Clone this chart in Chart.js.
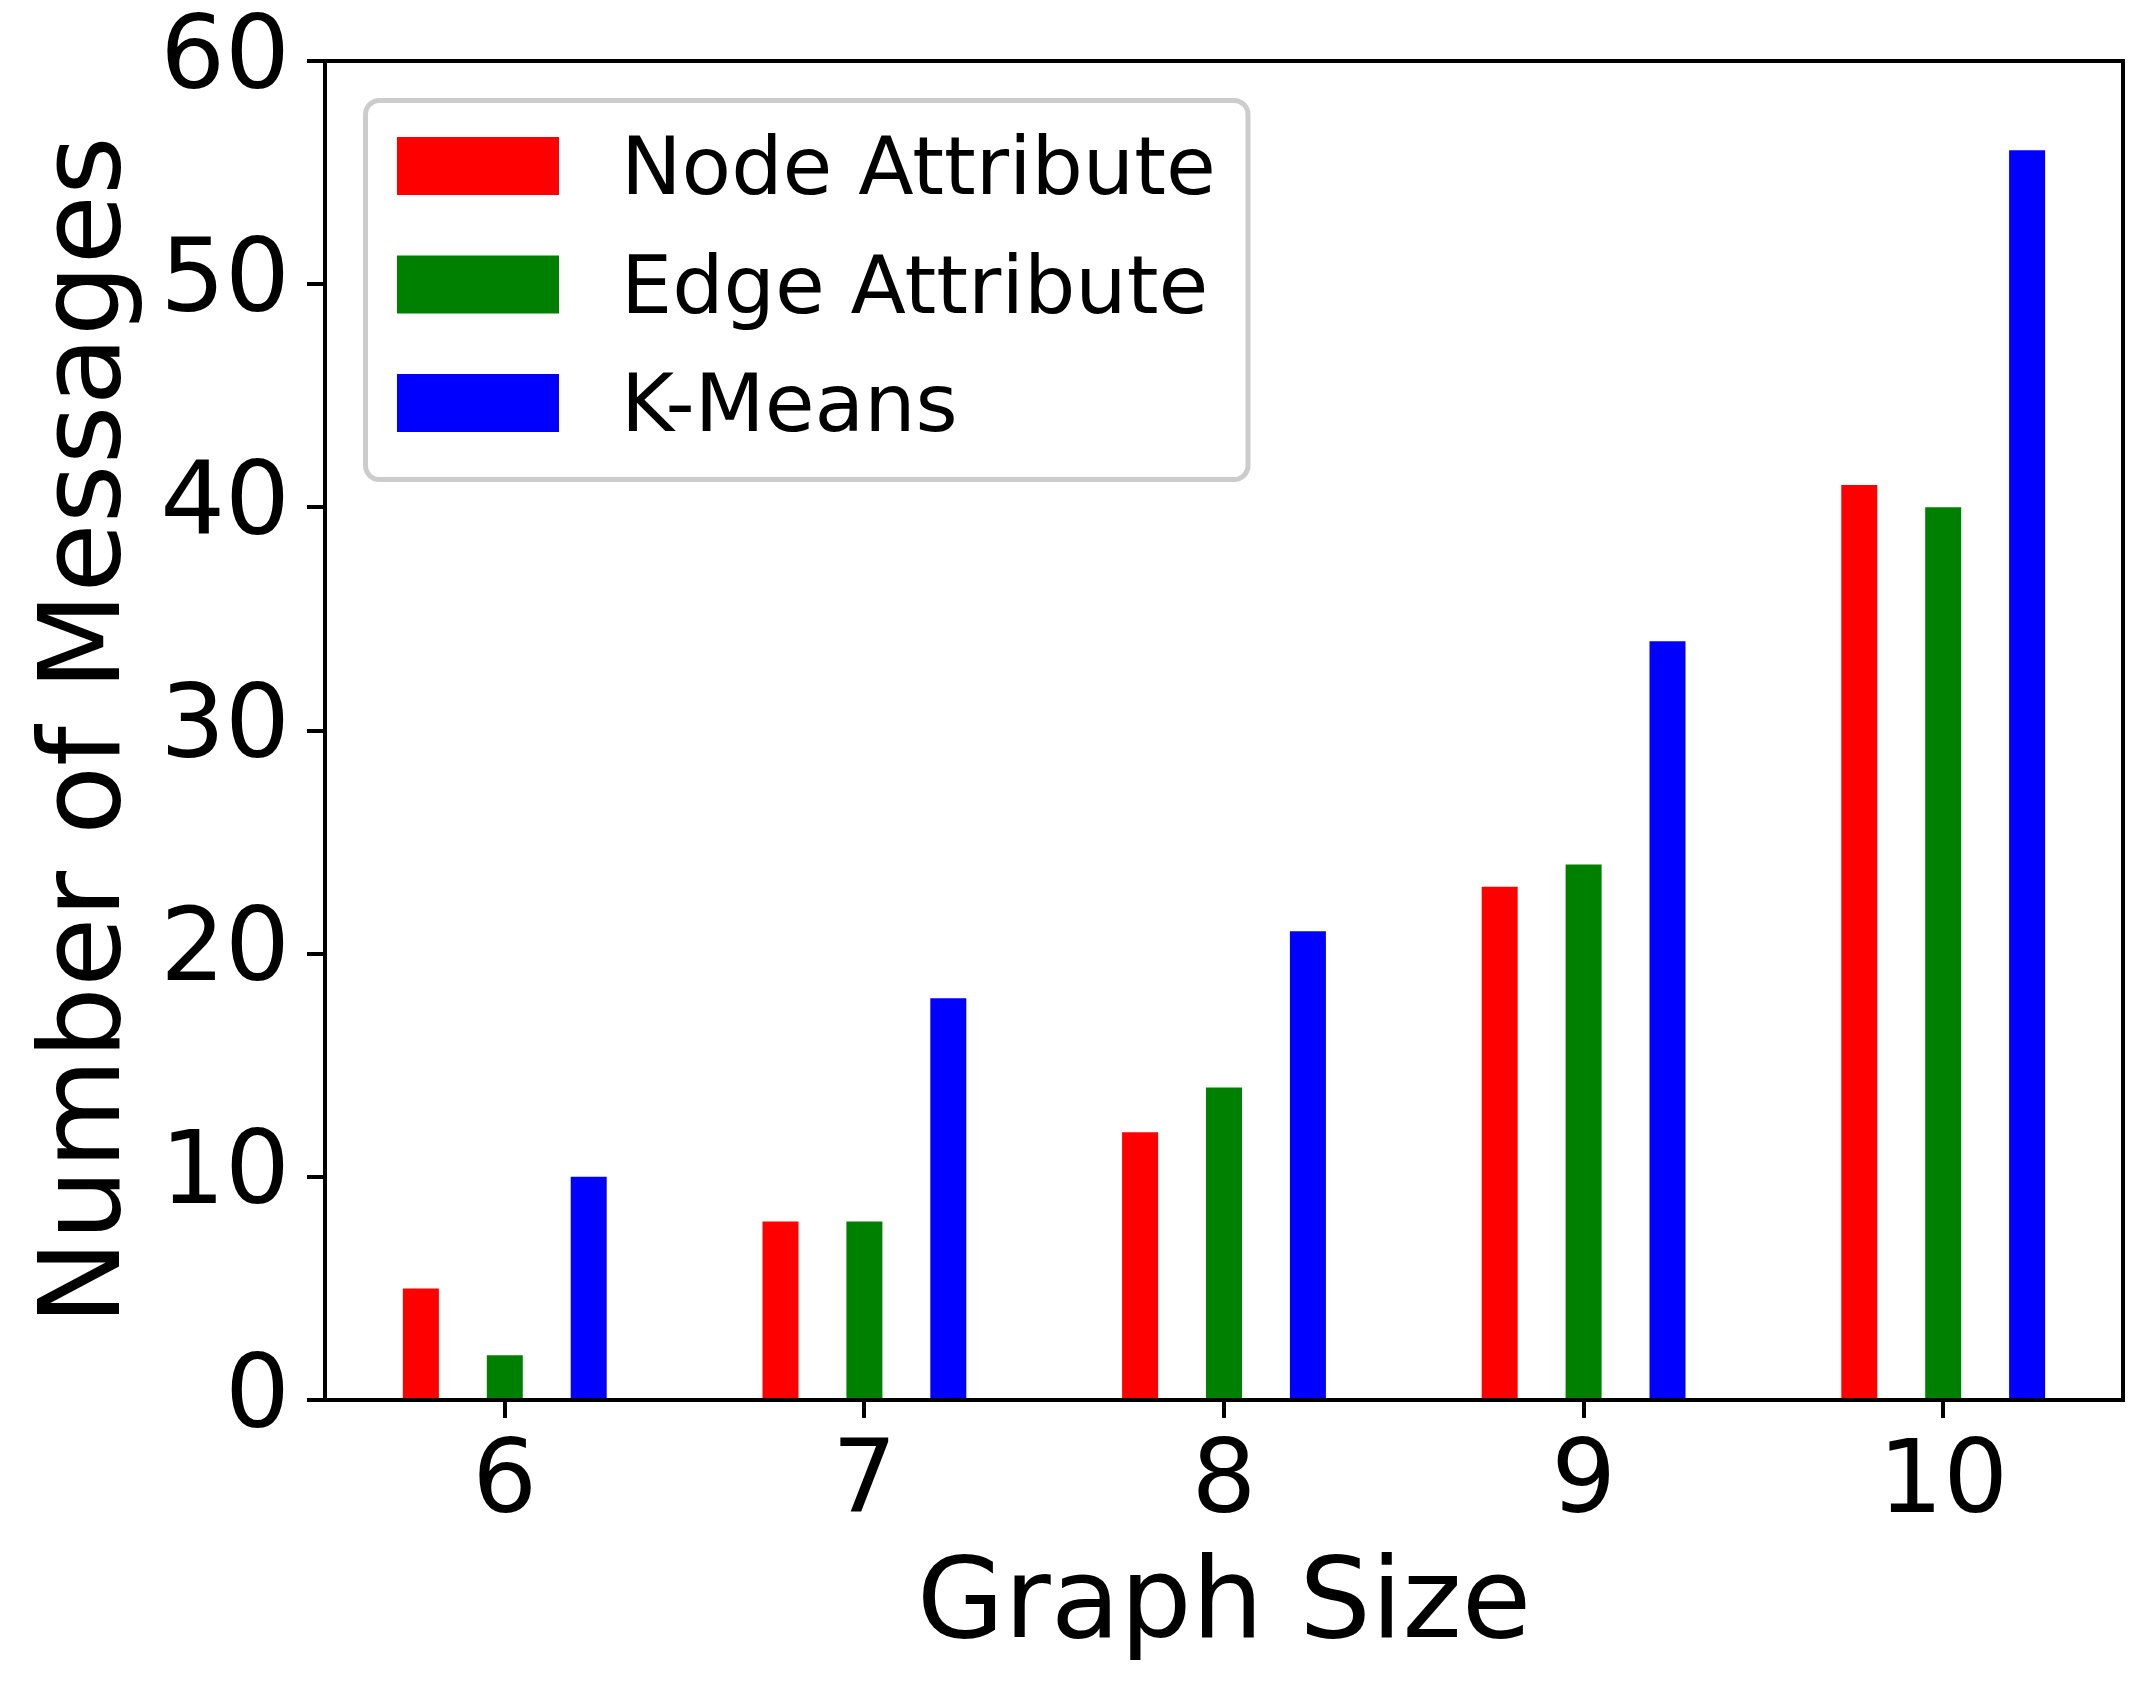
<!DOCTYPE html>
<html>
<head>
<meta charset="utf-8">
<script src="https://cdn.jsdelivr.net/npm/chart.js@4.4.1/dist/chart.umd.min.js"></script>
<style>
  html, body { margin: 0; padding: 0; background: #fff; }
  canvas { display: block; }
</style>
</head>
<body>
<canvas id="chart" width="2151" height="1700"></canvas>
<script>
// Number of messages per graph size

const graphSizes = ["6", "7", "8", "9", "10"];
const nodeAttribute = [5, 8, 12, 23, 41];
const edgeAttribute = [2, 8, 14, 24, 40];
const kMeans = [10, 18, 21, 34, 56];
const yTicks = [0, 10, 20, 30, 40, 50, 60];

const FONT = "DejaVu Sans";

// frame on top and right, like the matplotlib spines
const framePlugin = {
  id: "frame",
  afterDraw(chart) {
    const { ctx, chartArea } = chart;
    ctx.save();
    ctx.strokeStyle = "#000";
    ctx.lineWidth = 4;
    ctx.beginPath();
    ctx.moveTo(chartArea.left - 2, chartArea.top);
    ctx.lineTo(chartArea.right, chartArea.top);
    ctx.lineTo(chartArea.right, chartArea.bottom + 2);
    ctx.stroke();
    ctx.restore();
  },
};

// legend box in upper left corner
const legendPlugin = {
  id: "boxLegend",
  afterDraw(chart) {
    const ctx = chart.ctx;
    const x = 365.5, y = 100.5, w = 882.5, h = 379, r = 14;
    ctx.save();
    ctx.beginPath();
    ctx.roundRect(x, y, w, h, r);
    ctx.fillStyle = "rgba(255,255,255,0.8)";
    ctx.fill();
    ctx.lineWidth = 5;
    ctx.strokeStyle = "#cccccc";
    ctx.stroke();

    ctx.font = "81px '" + FONT + "'";
    ctx.textAlign = "left";
    ctx.textBaseline = "alphabetic";
    chart.data.datasets.forEach((ds, i) => {
      const top = 137 + i * 118.5;
      ctx.fillStyle = ds.backgroundColor;
      ctx.fillRect(397, top, 162, 58);
      ctx.fillStyle = "#000";
      ctx.fillText(ds.label, 621, top + 57);
    });
    ctx.restore();
  },
};

new Chart(document.getElementById("chart"), {
  type: "bar",
  data: {
    labels: graphSizes,
    datasets: [{
      label: "Node Attribute",
      data: nodeAttribute,
      backgroundColor: "#ff0000",
    }, {
      label: "Edge Attribute",
      data: edgeAttribute,
      backgroundColor: "#008000",
    }, {
      label: "K-Means",
      data: kMeans,
      backgroundColor: "#0000ff",
    }, ],
  },
  options: {
    responsive: false,
    animation: false,
    devicePixelRatio: 1,
    layout: {
      padding: { top: 61, right: 28, left: 0, bottom: 0 },
    },
    datasets: {
      bar: {
        categoryPercentage: 0.7,
        barPercentage: 0.429,
        borderWidth: 0,
      },
    },
    plugins: {
      legend: { display: false },
      tooltip: { enabled: false },
    },
    scales: {
      x: {
        z: 1,
        afterFit(scale) { scale.height = 300; },
        border: { display: true, color: "#000", width: 4 },
        grid: {
          offset: false,
          drawOnChartArea: false,
          drawTicks: true,
          tickLength: 18,
          lineWidth: 4,
          tickWidth: 4,
          color: "#000",
          tickColor: "#000",
        },
        ticks: {
          color: "#000",
          padding: 16,
          font: { family: FONT, size: 102, lineHeight: 1 },
        },
        title: {
          display: true,
          text: "Graph Size",
          color: "#000",
          padding: { top: 0, bottom: 36 },
          font: { family: FONT, size: 113, lineHeight: 1 },
        },
      },
      y: {
        z: 1,
        min: 0,
        max: 60,
        afterFit(scale) { scale.width = 325; },
        afterBuildTicks(scale) {
          scale.ticks = yTicks.map(v => ({ value: v }));
        },
        border: { display: true, color: "#000", width: 4 },
        grid: {
          drawOnChartArea: false,
          drawTicks: true,
          tickLength: 18,
          lineWidth: 4,
          tickWidth: 4,
          color: "#000",
          tickColor: "#000",
        },
        ticks: {
          color: "#000",
          padding: 17,
          font: { family: FONT, size: 102, lineHeight: 0.8 },
        },
        title: {
          display: true,
          text: "Number of Messages",
          color: "#000",
          padding: { top: 33, bottom: 0 },
          font: { family: FONT, size: 113, lineHeight: 1 },
        },
      },
    },
  },
  plugins: [framePlugin, legendPlugin],
});
</script>
</body>
</html>
